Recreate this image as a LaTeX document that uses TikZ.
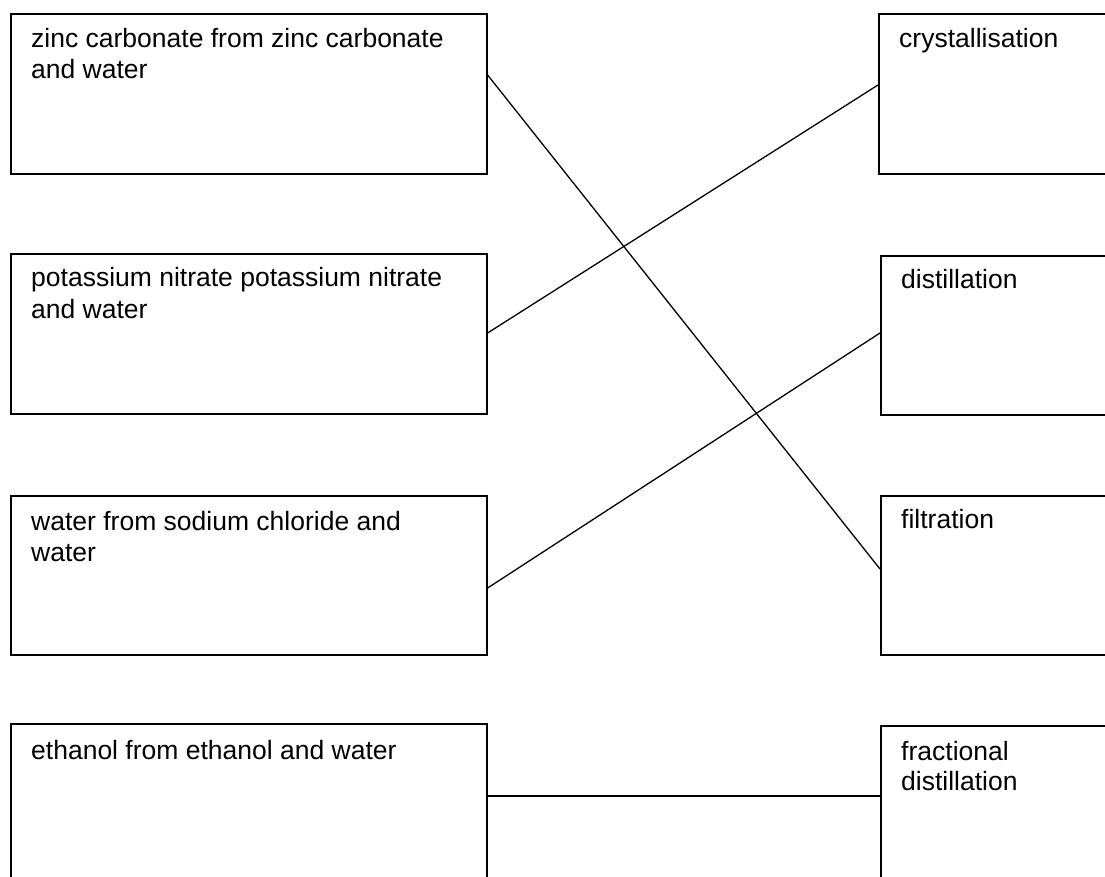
\documentclass[tikz,border=0pt]{standalone}
\usepackage{fontspec}
\setmainfont{Liberation Sans}
\begin{document}
\begin{tikzpicture}[x=1pt,y=-1pt,
  box/.style={draw=black, line width=1.6pt, rectangle, inner sep=0pt, anchor=north west, minimum height=#1},
  lbox/.style={box=#1, minimum width=476pt},
  rbox/.style={box=#1, minimum width=300pt},
  txt/.style={anchor=base west, inner sep=0pt, font=\fontsize{26.5}{31}\selectfont},
  link/.style={draw=black, line width=1.3pt}]
\useasboundingbox (0,0) rectangle (1105,877);
\clip (0,0) rectangle (1105,877);
\fill[white] (0,0) rectangle (1105,877);
% left boxes
\node[lbox=160pt] (L1) at (10,13) {};
\node[lbox=160pt] (L2) at (10,253) {};
\node[lbox=159pt] (L3) at (10,495) {};
\node[lbox=220pt] (L4) at (10,723) {};
% right boxes
\node[rbox=160pt] (R1) at (878,13) {};
\node[rbox=159pt] (R2) at (880,255) {};
\node[rbox=159pt] (R3) at (880,495) {};
\node[rbox=220pt] (R4) at (880,725) {};
% texts
\node[txt] (t1a) at ([xshift=21pt,yshift=-35pt]L1.north west) {zinc carbonate from zinc carbonate};
\node[txt] (t1b) at ([xshift=21pt,yshift=-66pt]L1.north west) {and water};
\node[txt] (t2a) at ([xshift=21pt,yshift=-34pt]L2.north west) {potassium nitrate potassium nitrate};
\node[txt] (t2b) at ([xshift=21pt,yshift=-65pt]L2.north west) {and water};
\node[txt] (t3a) at ([xshift=21pt,yshift=-35pt]L3.north west) {water from sodium chloride and};
\node[txt] (t3b) at ([xshift=21pt,yshift=-66pt]L3.north west) {water};
\node[txt] (t4a) at ([xshift=21pt,yshift=-36pt]L4.north west) {ethanol from ethanol and water};
\node[txt] (r1a) at ([xshift=21pt,yshift=-35pt]R1.north west) {crystallisation};
\node[txt] (r2a) at ([xshift=21pt,yshift=-33pt]R2.north west) {distillation};
\node[txt] (r3a) at ([xshift=21pt,yshift=-33pt]R3.north west) {filtration};
\node[txt] (r4a) at ([xshift=21pt,yshift=-35pt]R4.north west) {fractional};
\node[txt] (r4b) at ([xshift=21pt,yshift=-65pt]R4.north west) {distillation};
% connectors
\draw[link] ([yshift=-62pt]L1.north east) -- ([yshift=-74pt]R3.north west);
\draw[link] ([yshift=-80pt]L2.north east) -- ([yshift=-72pt]R1.north west);
\draw[link] ([yshift=-93pt]L3.north east) -- ([yshift=-78pt]R2.north west);
\draw[link] ([yshift=-73pt]L4.north east) -- ([yshift=-71pt]R4.north west);
\end{tikzpicture}
\end{document}
